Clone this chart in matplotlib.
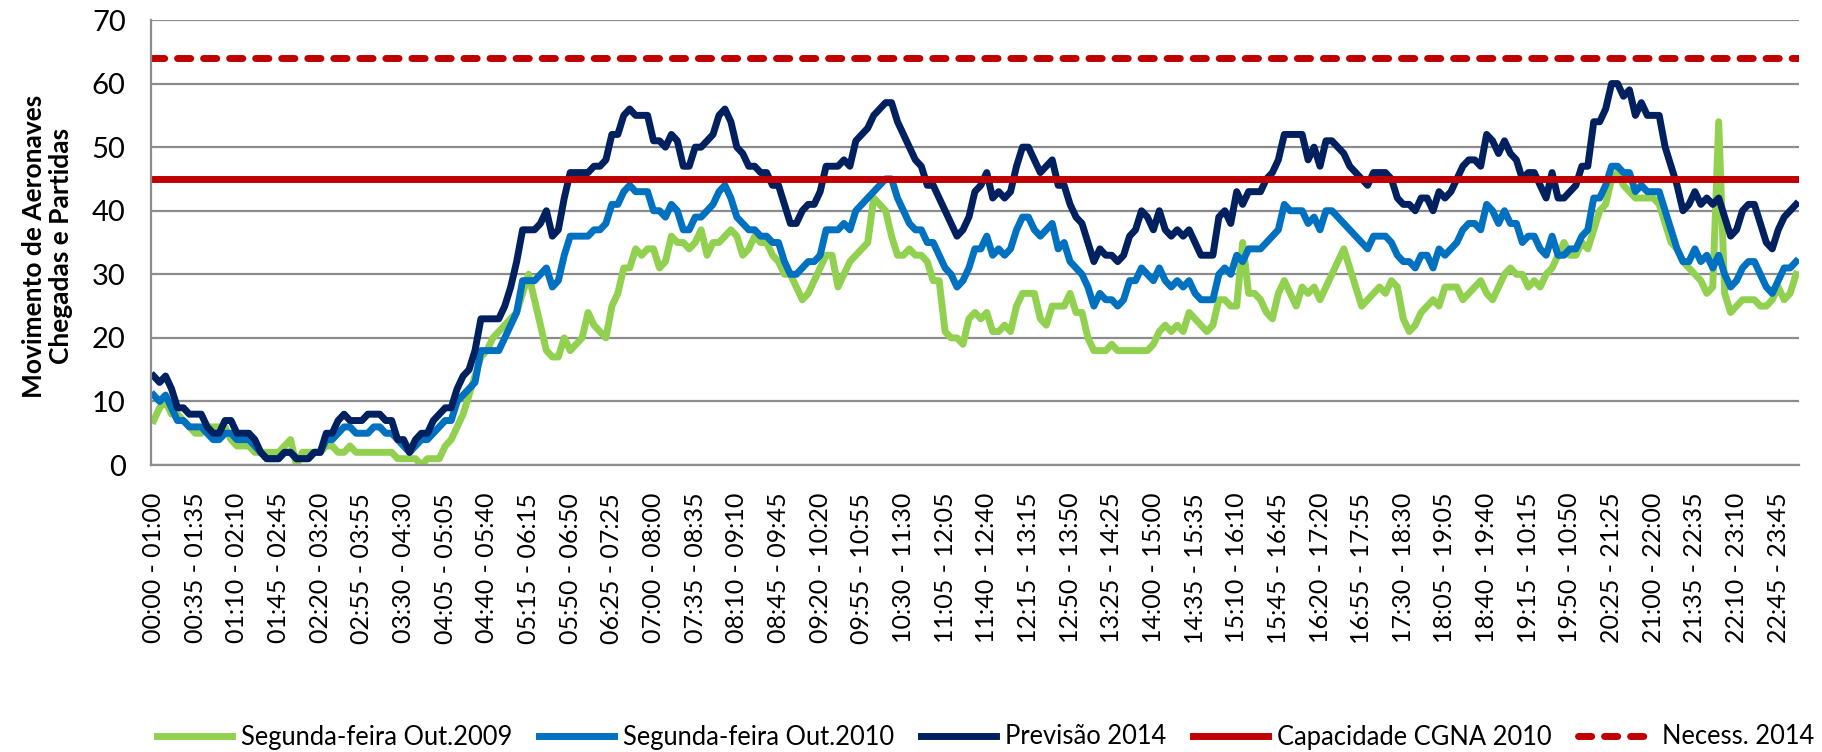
import matplotlib
matplotlib.use("Agg")
import matplotlib.pyplot as plt

# hourly movements (rolling 1h window, every 5 min)
OUT_2009 = [
    7, 9, 10, 8, 8, 7, 6, 5, 5, 6, 6, 6, 6, 4, 3, 3, 3, 2, 2, 2,
    2, 2, 3, 4, 0, 2, 2, 2, 2, 3, 3, 2, 2, 3, 2, 2, 2, 2, 2, 2,
    2, 1, 1, 1, 1, 0, 1, 1, 1, 3, 4, 6, 8, 11, 14, 17, 18, 20, 21, 22,
    23, 24, 27, 30, 26, 22, 18, 17, 17, 20, 18, 19, 20, 24, 22, 21, 20, 25, 27, 31,
    31, 34, 33, 34, 34, 31, 32, 36, 35, 35, 34, 35, 37, 33, 35, 35, 36, 37, 36, 33,
    34, 36, 35, 35, 33, 32, 30, 30, 28, 26, 27, 29, 31, 33, 33, 28, 30, 32, 33, 34,
    35, 42, 41, 40, 36, 33, 33, 34, 33, 33, 32, 29, 29, 21, 20, 20, 19, 23, 24, 23,
    24, 21, 21, 22, 21, 25, 27, 27, 27, 23, 22, 25, 25, 25, 27, 24, 24, 20, 18, 18,
    18, 19, 18, 18, 18, 18, 18, 18, 19, 21, 22, 21, 22, 21, 24, 23, 22, 21, 22, 26,
    26, 25, 25, 35, 27, 27, 26, 24, 23, 27, 29, 27, 25, 28, 27, 28, 26, 28, 30, 32,
    34, 31, 28, 25, 26, 27, 28, 27, 29, 28, 23, 21, 22, 24, 25, 26, 25, 28, 28, 28,
    26, 27, 28, 29, 27, 26, 28, 30, 31, 30, 30, 28, 29, 28, 30, 31, 33, 35, 33, 33,
    35, 34, 37, 40, 41, 45, 46, 44, 43, 42, 42, 42, 42, 41, 38, 35, 34, 32, 31, 30,
    29, 27, 28, 54, 27, 24, 25, 26, 26, 26, 25, 25, 26, 28, 26, 27, 30,
]
OUT_2010 = [
    11, 10, 11, 9, 7, 7, 6, 6, 6, 5, 4, 4, 5, 5, 4, 4, 4, 3, 2, 1,
    1, 1, 2, 2, 1, 1, 1, 2, 2, 4, 4, 5, 6, 6, 5, 5, 5, 6, 6, 5,
    5, 4, 3, 2, 3, 4, 4, 5, 6, 7, 7, 10, 11, 12, 13, 18, 18, 18, 18, 20,
    22, 24, 29, 29, 29, 30, 31, 28, 29, 33, 36, 36, 36, 36, 37, 37, 38, 41, 41, 43,
    44, 43, 43, 43, 40, 40, 39, 41, 40, 37, 37, 39, 39, 40, 41, 43, 44, 42, 39, 38,
    37, 37, 36, 36, 35, 35, 32, 30, 30, 31, 32, 32, 33, 37, 37, 37, 38, 37, 40, 41,
    42, 43, 44, 45, 45, 42, 40, 38, 37, 37, 35, 35, 33, 31, 30, 28, 29, 31, 34, 34,
    36, 33, 34, 33, 34, 37, 39, 39, 37, 36, 37, 38, 34, 35, 32, 31, 30, 28, 25, 27,
    26, 26, 25, 26, 29, 29, 31, 30, 29, 31, 29, 28, 29, 28, 29, 27, 26, 26, 26, 30,
    31, 30, 33, 32, 34, 34, 34, 35, 36, 37, 41, 40, 40, 40, 38, 39, 37, 40, 40, 39,
    38, 37, 36, 35, 34, 36, 36, 36, 35, 33, 32, 32, 31, 33, 33, 31, 34, 33, 34, 35,
    37, 38, 38, 37, 41, 40, 38, 40, 38, 38, 35, 36, 36, 34, 33, 36, 33, 33, 34, 34,
    36, 37, 42, 42, 44, 47, 47, 46, 46, 43, 44, 43, 43, 43, 40, 37, 34, 32, 32, 34,
    32, 33, 31, 33, 30, 28, 29, 31, 32, 32, 30, 28, 27, 29, 31, 31, 32,
]
PREV_2014 = [
    14, 13, 14, 12, 9, 9, 8, 8, 8, 6, 5, 5, 7, 7, 5, 5, 5, 4, 2, 1,
    1, 1, 2, 2, 1, 1, 1, 2, 2, 5, 5, 7, 8, 7, 7, 7, 8, 8, 8, 7,
    7, 4, 4, 2, 4, 5, 5, 7, 8, 9, 9, 12, 14, 15, 18, 23, 23, 23, 23, 25,
    28, 32, 37, 37, 37, 38, 40, 36, 37, 42, 46, 46, 46, 46, 47, 47, 48, 52, 52, 55,
    56, 55, 55, 55, 51, 51, 50, 52, 51, 47, 47, 50, 50, 51, 52, 55, 56, 54, 50, 49,
    47, 47, 46, 46, 44, 44, 41, 38, 38, 40, 41, 41, 43, 47, 47, 47, 48, 47, 51, 52,
    53, 55, 56, 57, 57, 54, 52, 50, 48, 47, 44, 44, 42, 40, 38, 36, 37, 39, 43, 44,
    46, 42, 43, 42, 43, 47, 50, 50, 48, 46, 47, 48, 44, 44, 41, 39, 38, 35, 32, 34,
    33, 33, 32, 33, 36, 37, 40, 39, 37, 40, 37, 36, 37, 36, 37, 35, 33, 33, 33, 39,
    40, 38, 43, 41, 43, 43, 43, 45, 46, 48, 52, 52, 52, 52, 48, 50, 47, 51, 51, 50,
    49, 47, 46, 45, 44, 46, 46, 46, 45, 42, 41, 41, 40, 42, 42, 40, 43, 42, 43, 45,
    47, 48, 48, 47, 52, 51, 49, 51, 49, 48, 45, 46, 46, 44, 42, 46, 42, 42, 43, 44,
    47, 47, 54, 54, 56, 60, 60, 58, 59, 55, 57, 55, 55, 55, 50, 47, 44, 40, 41, 43,
    41, 42, 41, 42, 39, 36, 37, 40, 41, 41, 38, 35, 34, 37, 39, 40, 41,
]
CAPACIDADE_2010 = 45
NECESS_2014 = 64

# every 7th category label (the "10:15"/"10:50" typos are in the original)
TICK_LABELS = [
    "00:00 - 01:00", "00:35 - 01:35", "01:10 - 02:10", "01:45 - 02:45",
    "02:20 - 03:20", "02:55 - 03:55", "03:30 - 04:30", "04:05 - 05:05",
    "04:40 - 05:40", "05:15 - 06:15", "05:50 - 06:50", "06:25 - 07:25",
    "07:00 - 08:00", "07:35 - 08:35", "08:10 - 09:10", "08:45 - 09:45",
    "09:20 - 10:20", "09:55 - 10:55", "10:30 - 11:30", "11:05 - 12:05",
    "11:40 - 12:40", "12:15 - 13:15", "12:50 - 13:50", "13:25 - 14:25",
    "14:00 - 15:00", "14:35 - 15:35", "15:10 - 16:10", "15:45 - 16:45",
    "16:20 - 17:20", "16:55 - 17:55", "17:30 - 18:30", "18:05 - 19:05",
    "18:40 - 19:40", "19:15 - 10:15", "19:50 - 10:50", "20:25 - 21:25",
    "21:00 - 22:00", "21:35 - 22:35", "22:10 - 23:10", "22:45 - 23:45",
]
LABEL_STEP = 7

plt.rcParams["font.family"] = ["Lato", "DejaVu Sans"]

fig = plt.figure(figsize=(18.22, 7.52), dpi=100)
ax = fig.add_axes([0.0827, 0.3816, 0.9047, 0.5918])

x = list(range(len(PREV_2014)))
LW = 5.0
ax.plot(x, OUT_2009, color="#92D050", lw=LW, solid_joinstyle="round",
        label="Segunda-feira Out.2009")
ax.plot(x, OUT_2010, color="#0070C0", lw=LW, solid_joinstyle="round",
        label="Segunda-feira Out.2010")
ax.plot(x, PREV_2014, color="#002060", lw=LW, solid_joinstyle="round",
        label="Previsão 2014")
ax.axhline(CAPACIDADE_2010, color="#C00000", lw=LW, label="Capacidade CGNA 2010")
ax.axhline(NECESS_2014, color="#C00000", lw=LW, dashes=(1.9, 1.85),
           dash_capstyle="round", label="Necess. 2014")

ax.set_xlim(-0.5, len(x) - 0.5)
ax.set_ylim(0, 70)
ax.set_yticks(range(0, 71, 10))
ax.set_xticks(x[::LABEL_STEP])
ax.set_xticklabels(TICK_LABELS, rotation=90)
ax.tick_params(axis="both", length=0)
ax.tick_params(axis="x", pad=20, labelsize=18)
ax.tick_params(axis="y", pad=18, labelsize=21)

ax.grid(axis="y", color="#8C8C8C", lw=1.6)
ax.set_axisbelow(True)
for side in ("top", "right"):
    ax.spines[side].set_visible(False)
for side in ("left", "bottom"):
    ax.spines[side].set_color("#8C8C8C")
    ax.spines[side].set_linewidth(1.6)

fig.text(48 / 1822, 1 - 246 / 752, "Movimento de Aeronaves\nChegadas e Partidas",
         rotation=90, ha="center", va="center", multialignment="center",
         fontsize=19, fontweight="bold", linespacing=1.15)

fig.legend(loc="center", bbox_to_anchor=(0.541, 1 - 737 / 752), ncol=5,
           frameon=False, fontsize=18.4, handlelength=2.93, handletextpad=0.35,
           columnspacing=1.05)

fig.savefig("out.png", dpi=100)
